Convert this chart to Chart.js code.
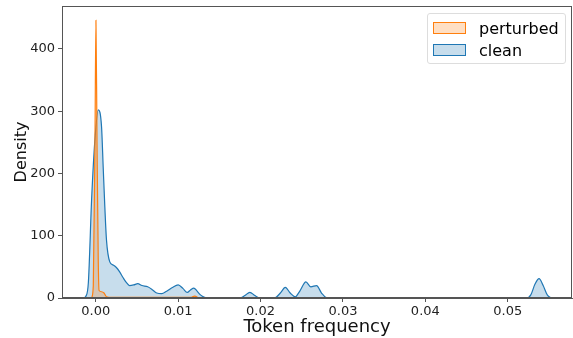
<!DOCTYPE html>
<html>
<head>
<meta charset="utf-8">
<script src="https://cdn.jsdelivr.net/npm/chart.js@4/dist/chart.umd.min.js"></script>
<style>
  html, body { margin: 0; padding: 0; background: #fff; }
  #wrap { width: 573px; height: 338px; position: relative; font-family: 'DejaVu Sans', sans-serif; }
  .legend { position: absolute; left: 427px; top: 13px; width: 137px; height: 49px;
    border: 1px solid #ddd; border-radius: 3px; background: rgba(255,255,255,0.8); }
  .legend .row { position: absolute; left: 5px; height: 20px; display: flex; align-items: center; font-size: 16px; color: #000; }
  .legend .sw { width: 31px; height: 10px; margin-right: 13px; border: 1px solid; }
</style>
</head>
<body>
<div id="wrap">
  <canvas id="kde"></canvas>
  <div class="legend" id="legend"></div>
</div>
<script>
// density curves (x = token frequency, y = density)
const cleanX = [-0.0015, -0.0012, -0.0009, -0.0005, -0.0001, 0.0003, 0.0007, 0.0009, 0.0011, 0.0013,
  0.0017, 0.0021, 0.0025, 0.0029, 0.0033, 0.0037, 0.0041, 0.0046, 0.0051, 0.0056, 0.0063, 0.0069,
  0.0074, 0.0080, 0.0086, 0.0093, 0.0100, 0.0106, 0.0111, 0.0115, 0.0119, 0.0123, 0.0127, 0.0132,
  0.0136, 0.0175, 0.0181, 0.0187, 0.0193, 0.0199, 0.0217, 0.0224, 0.0230, 0.0236, 0.0242, 0.0248,
  0.0255, 0.0261, 0.0268, 0.0274, 0.0281, 0.0523, 0.0528, 0.0533, 0.0538, 0.0543, 0.0548, 0.0553];
const cleanY = [0, 3, 25, 160, 255, 302, 275, 210, 146, 93,
  58, 53, 49, 42, 33, 25, 20, 21, 23, 20, 18, 13,
  8, 7, 11, 17, 21, 15, 9, 13, 16, 11, 5, 1,
  0, 0, 4, 9, 4, 0, 0, 8, 17, 8, 2, 12,
  26, 18, 20, 8, 0, 0, 5, 22, 31, 20, 5, 0];

const pertX = [-0.0005, -0.0003, -0.0001, 0.00002, 0.00015, 0.0003, 0.0004, 0.0007, 0.0010, 0.0013,
  0.0020, 0.0050, 0.0115, 0.0120, 0.0125];
const pertY = [0, 20, 250, 446, 250, 60, 12, 10, 8, 2,
  1, 1, 1, 3, 0];

const xTicks = [0, 0.01, 0.02, 0.03, 0.04, 0.05];
const yTicks = [0, 100, 200, 300, 400];

const pts = (xs, ys) => xs.map((x, i) => ({ x, y: ys[i] }));

const axisColor = '#555';
const font = 'DejaVu Sans';

const frame = {
  id: 'frame',
  afterDraw(chart) {
    const { ctx, chartArea: a } = chart;
    ctx.save();
    ctx.strokeStyle = axisColor;
    ctx.lineWidth = 1;
    ctx.strokeRect(a.left + 0.5, a.top + 0.5, a.right - a.left - 1, a.bottom - a.top - 1);
    ctx.restore();
  }
};

const chart = new Chart(document.getElementById('kde'), {
  type: 'line',
  data: {
    datasets: [
      { label: 'perturbed', data: pts(pertX, pertY), borderColor: '#ff7f0e',
        backgroundColor: 'rgba(255,127,14,0.25)', fill: 'origin', borderWidth: 1.2,
        pointRadius: 0, cubicInterpolationMode: 'monotone' },
      { label: 'clean', data: pts(cleanX, cleanY), borderColor: '#1f77b4',
        backgroundColor: 'rgba(31,119,180,0.25)', fill: 'origin', borderWidth: 1.2,
        pointRadius: 0, cubicInterpolationMode: 'monotone' }
    ]
  },
  options: {
    responsive: true, maintainAspectRatio: false, animation: false,
    layout: { padding: { top: 6, right: 1, left: 12, bottom: 0 } },
    plugins: { tooltip: { enabled: false }, legend: { display: false } },
    scales: {
      x: {
        type: 'linear', min: -0.0041, max: 0.0578,
        afterBuildTicks: s => { s.ticks = xTicks.map(v => ({ value: v })); },
        afterFit: s => { s.height = 40; s.paddingLeft = 0; s.paddingRight = 0; },
        ticks: { font: { family: font, size: 13 }, color: '#222', padding: 2, callback: v => v.toFixed(2) },
        grid: { drawOnChartArea: false, tickLength: 4, color: axisColor },
        border: { color: axisColor },
        title: { display: true, text: 'Token frequency', font: { family: font, size: 18 }, color: '#111', padding: 0 }
      },
      y: {
        min: 0, max: 469,
        afterBuildTicks: s => { s.ticks = yTicks.map(v => ({ value: v })); },
        afterFit: s => { s.width = 50; s.paddingTop = 0; s.paddingBottom = 0; },
        ticks: { font: { family: font, size: 13 }, color: '#222', padding: 3 },
        grid: { drawOnChartArea: false, tickLength: 4, color: axisColor },
        border: { color: axisColor },
        title: { display: true, text: 'Density', font: { family: font, size: 16 }, color: '#111', padding: 0 }
      }
    }
  },
  plugins: [frame]
});

// legend rows built from the datasets
document.getElementById('legend').innerHTML = chart.data.datasets.map((d, i) =>
  `<div class="row" style="top:${4 + i * 22}px"><span class="sw" style="background:${d.backgroundColor};border-color:${d.borderColor}"></span>${d.label}</div>`
).join('');
</script>
</body>
</html>
